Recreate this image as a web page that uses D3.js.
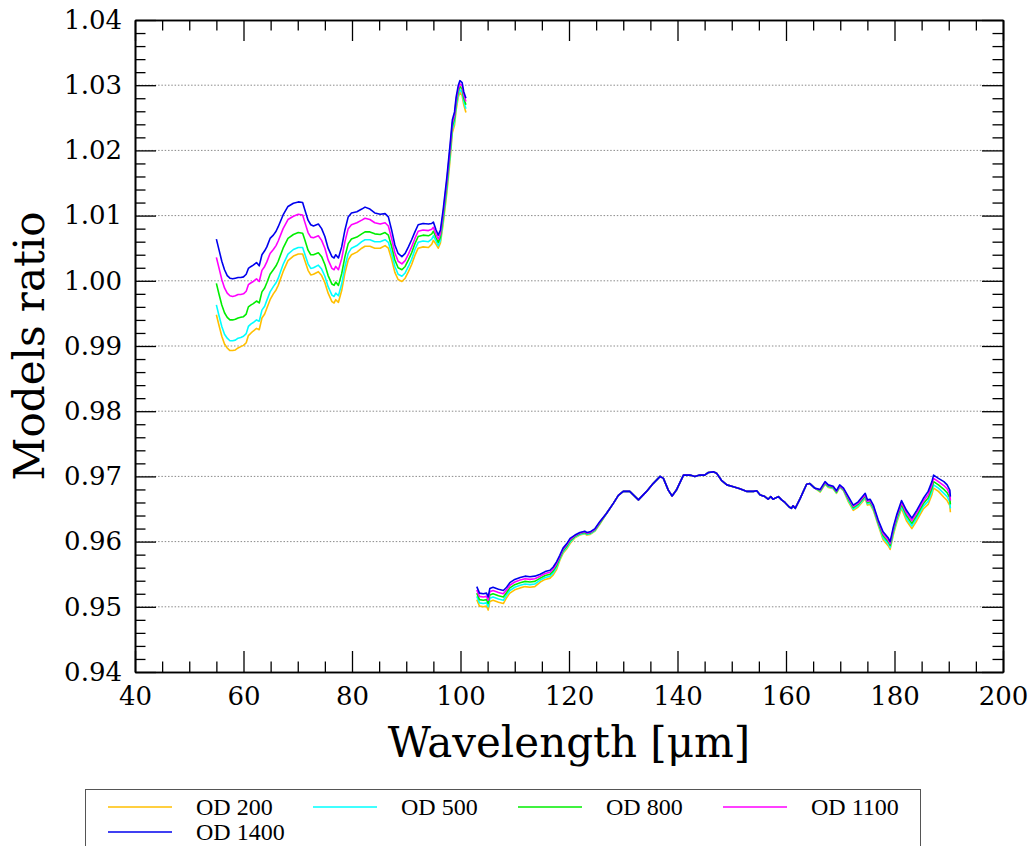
<!DOCTYPE html>
<html><head><meta charset="utf-8">
<script src="https://cdn.jsdelivr.net/npm/d3@7"></script>
<style>body{margin:0;background:#fff;} svg{display:block;}</style>
</head><body><svg id="chart" width="1033" height="846"></svg>
<script>
// ---------- DATA ----------
const wavelengthA = [55.0,55.5,56.0,56.5,57.0,57.5,58.0,58.5,59.0,59.5,60.0,60.5,60.9,61.4,61.8,62.4,62.9,63.4,63.9,64.3,64.9,65.5,66.0,66.4,67.3,68.2,69.2,70.1,70.9,71.3,71.9,72.4,72.9,73.8,74.4,75.0,75.6,76.3,76.7,77.0,77.5,78.1,78.7,79.3,79.9,80.9,81.8,82.4,83.3,84.2,85.2,86.1,86.7,87.3,87.9,88.5,89.2,89.8,90.4,91.0,91.6,92.2,93.1,94.1,94.7,95.0,95.5,95.9,96.3,96.8,97.5,98.1,98.5,98.9,99.2,99.6,99.9,100.3,100.6,101.0];
const wavelengthB = [103.0,103.5,104.2,104.8,105.1,105.4,106.0,107.0,107.9,108.5,109.1,110.0,111.0,111.9,112.8,113.7,114.7,115.6,116.5,117.1,117.7,118.3,118.9,119.6,120.2,121.1,122.0,122.9,123.3,123.9,124.8,125.7,126.9,128.2,129.1,130.0,131.2,132.8,134.3,135.5,136.8,137.4,138.3,139.0,139.8,141.1,142.3,143.2,144.1,145.0,145.7,146.6,147.2,148.1,149.1,150.3,151.5,152.8,154.0,154.6,155.2,156.1,156.7,157.2,157.6,158.6,159.2,159.8,160.6,161.0,161.3,161.7,162.6,163.2,163.8,164.4,165.3,166.3,167.2,167.8,168.7,169.3,169.9,170.6,171.5,172.4,173.3,174.6,175.0,175.5,176.1,177.0,177.9,178.9,179.2,179.8,180.4,181.3,182.2,183.2,184.1,185.3,186.2,186.9,187.2,188.1,189.1,189.7,190.2,190.3];

const od200A = [0.9948,0.9931,0.9915,0.9903,0.9897,0.9893,0.9893,0.9894,0.9897,0.9899,0.9901,0.9905,0.9916,0.9920,0.9923,0.9927,0.9925,0.9943,0.9949,0.9958,0.9971,0.9980,0.9986,0.9993,1.0014,1.0031,1.0038,1.0041,1.0041,1.0031,1.0016,1.0009,1.0010,1.0014,1.0008,0.9997,0.9981,0.9968,0.9966,0.9971,0.9967,0.9985,1.0012,1.0032,1.0040,1.0044,1.0050,1.0053,1.0053,1.0050,1.0050,1.0054,1.0050,1.0033,1.0013,1.0002,0.9999,1.0004,1.0014,1.0025,1.0039,1.0050,1.0052,1.0051,1.0056,1.0062,1.0056,1.0050,1.0058,1.0087,1.0136,1.0187,1.0227,1.0239,1.0262,1.0282,1.0289,1.0284,1.0270,1.0258];
const od500A = [0.9963,0.9946,0.9930,0.9918,0.9912,0.9908,0.9908,0.9909,0.9912,0.9913,0.9915,0.9919,0.9930,0.9934,0.9936,0.9940,0.9938,0.9955,0.9961,0.9970,0.9983,0.9991,0.9997,1.0004,1.0025,1.0041,1.0048,1.0051,1.0051,1.0041,1.0026,1.0019,1.0020,1.0024,1.0018,1.0007,0.9991,0.9978,0.9976,0.9981,0.9977,0.9995,1.0022,1.0042,1.0050,1.0054,1.0060,1.0063,1.0063,1.0060,1.0060,1.0063,1.0059,1.0042,1.0022,1.0010,1.0007,1.0012,1.0022,1.0033,1.0048,1.0059,1.0061,1.0060,1.0064,1.0069,1.0061,1.0054,1.0062,1.0092,1.0142,1.0193,1.0232,1.0244,1.0267,1.0286,1.0293,1.0289,1.0275,1.0264];
const od800A = [0.9996,0.9979,0.9963,0.9951,0.9944,0.9940,0.9940,0.9941,0.9943,0.9944,0.9945,0.9949,0.9960,0.9963,0.9965,0.9969,0.9966,0.9983,0.9989,0.9997,1.0010,1.0017,1.0023,1.0030,1.0050,1.0065,1.0071,1.0074,1.0073,1.0063,1.0047,1.0040,1.0040,1.0043,1.0037,1.0025,1.0008,0.9995,0.9993,0.9998,0.9993,1.0011,1.0037,1.0057,1.0064,1.0067,1.0072,1.0075,1.0075,1.0072,1.0071,1.0074,1.0070,1.0053,1.0032,1.0020,1.0017,1.0022,1.0032,1.0043,1.0057,1.0068,1.0070,1.0069,1.0072,1.0076,1.0066,1.0059,1.0067,1.0097,1.0148,1.0199,1.0237,1.0249,1.0272,1.0291,1.0298,1.0294,1.0280,1.0270];
const od1100A = [1.0036,1.0019,1.0002,0.9989,0.9981,0.9977,0.9976,0.9977,0.9979,0.9979,0.9980,0.9984,0.9994,0.9997,0.9999,1.0003,0.9999,1.0016,1.0022,1.0029,1.0042,1.0048,1.0054,1.0061,1.0080,1.0094,1.0099,1.0102,1.0101,1.0090,1.0074,1.0067,1.0066,1.0069,1.0062,1.0050,1.0032,1.0019,1.0017,1.0022,1.0017,1.0034,1.0060,1.0080,1.0086,1.0089,1.0093,1.0096,1.0094,1.0089,1.0087,1.0089,1.0084,1.0065,1.0043,1.0030,1.0026,1.0031,1.0041,1.0052,1.0065,1.0076,1.0078,1.0077,1.0079,1.0082,1.0071,1.0064,1.0072,1.0103,1.0154,1.0205,1.0242,1.0254,1.0277,1.0295,1.0302,1.0299,1.0285,1.0275];
const od1400A = [1.0064,1.0047,1.0030,1.0017,1.0008,1.0004,1.0003,1.0004,1.0005,1.0005,1.0006,1.0010,1.0019,1.0022,1.0024,1.0028,1.0023,1.0040,1.0046,1.0052,1.0065,1.0070,1.0076,1.0083,1.0101,1.0114,1.0119,1.0121,1.0120,1.0109,1.0093,1.0086,1.0084,1.0087,1.0080,1.0068,1.0050,1.0037,1.0035,1.0040,1.0035,1.0052,1.0078,1.0098,1.0104,1.0106,1.0110,1.0113,1.0110,1.0104,1.0102,1.0103,1.0098,1.0078,1.0055,1.0042,1.0037,1.0042,1.0052,1.0063,1.0075,1.0086,1.0088,1.0087,1.0088,1.0090,1.0078,1.0070,1.0078,1.0109,1.0160,1.0211,1.0247,1.0259,1.0282,1.0300,1.0307,1.0304,1.0290,1.0280];

const od200B = [0.9511,0.9501,0.9500,0.9501,0.9495,0.9508,0.9510,0.9507,0.9505,0.9514,0.9521,0.9526,0.9529,0.9531,0.9530,0.9531,0.9538,0.9542,0.9544,0.9549,0.9557,0.9571,0.9582,0.9589,0.9597,0.9606,0.9610,0.9612,0.9610,0.9611,0.9616,0.9627,0.9643,0.9659,0.9671,0.9677,0.9677,0.9664,0.9677,0.9689,0.9700,0.9697,0.9679,0.9670,0.9679,0.9702,0.9702,0.9700,0.9702,0.9702,0.9706,0.9707,0.9705,0.9694,0.9687,0.9684,0.9681,0.9677,0.9677,0.9678,0.9672,0.9669,0.9665,0.9669,0.9665,0.9669,0.9664,0.9660,0.9653,0.9651,0.9655,0.9651,0.9666,0.9677,0.9688,0.9689,0.9682,0.9676,0.9688,0.9683,0.9681,0.9674,0.9683,0.9678,0.9661,0.9648,0.9653,0.9666,0.9656,0.9657,0.9648,0.9625,0.9603,0.9593,0.9588,0.9611,0.9629,0.9651,0.9632,0.9620,0.9632,0.9650,0.9657,0.9672,0.9682,0.9677,0.9668,0.9663,0.9655,0.9645];
const od500B = [0.9516,0.9506,0.9505,0.9506,0.9500,0.9513,0.9515,0.9512,0.9510,0.9518,0.9525,0.9530,0.9533,0.9535,0.9534,0.9535,0.9541,0.9545,0.9547,0.9552,0.9560,0.9573,0.9584,0.9591,0.9599,0.9607,0.9611,0.9613,0.9611,0.9612,0.9617,0.9628,0.9643,0.9659,0.9671,0.9677,0.9677,0.9664,0.9677,0.9689,0.9700,0.9697,0.9679,0.9670,0.9679,0.9702,0.9702,0.9700,0.9702,0.9702,0.9706,0.9707,0.9705,0.9694,0.9687,0.9684,0.9681,0.9677,0.9677,0.9678,0.9672,0.9669,0.9665,0.9669,0.9665,0.9669,0.9664,0.9660,0.9653,0.9651,0.9655,0.9651,0.9666,0.9677,0.9688,0.9689,0.9682,0.9677,0.9689,0.9684,0.9682,0.9675,0.9684,0.9679,0.9663,0.9650,0.9655,0.9668,0.9658,0.9659,0.9650,0.9627,0.9606,0.9596,0.9591,0.9614,0.9632,0.9654,0.9636,0.9624,0.9636,0.9654,0.9662,0.9677,0.9687,0.9682,0.9674,0.9669,0.9661,0.9651];
const od800B = [0.9521,0.9511,0.9510,0.9511,0.9505,0.9518,0.9520,0.9517,0.9515,0.9522,0.9529,0.9534,0.9537,0.9539,0.9538,0.9539,0.9544,0.9548,0.9550,0.9555,0.9563,0.9575,0.9586,0.9593,0.9601,0.9608,0.9612,0.9614,0.9612,0.9613,0.9618,0.9629,0.9643,0.9659,0.9671,0.9677,0.9677,0.9664,0.9677,0.9689,0.9700,0.9697,0.9679,0.9670,0.9679,0.9702,0.9702,0.9700,0.9702,0.9702,0.9706,0.9707,0.9705,0.9694,0.9687,0.9684,0.9681,0.9677,0.9677,0.9678,0.9672,0.9669,0.9665,0.9669,0.9665,0.9669,0.9664,0.9660,0.9653,0.9651,0.9655,0.9651,0.9666,0.9677,0.9688,0.9689,0.9682,0.9678,0.9690,0.9685,0.9683,0.9676,0.9685,0.9680,0.9665,0.9652,0.9657,0.9670,0.9660,0.9661,0.9652,0.9629,0.9609,0.9599,0.9594,0.9617,0.9635,0.9657,0.9640,0.9628,0.9640,0.9658,0.9667,0.9682,0.9692,0.9687,0.9680,0.9675,0.9667,0.9657];
const od1100B = [0.9526,0.9516,0.9515,0.9516,0.9510,0.9523,0.9525,0.9522,0.9520,0.9526,0.9533,0.9538,0.9541,0.9543,0.9542,0.9543,0.9547,0.9551,0.9553,0.9558,0.9566,0.9577,0.9588,0.9595,0.9603,0.9609,0.9613,0.9615,0.9613,0.9614,0.9619,0.9630,0.9643,0.9659,0.9671,0.9677,0.9677,0.9664,0.9677,0.9689,0.9700,0.9697,0.9679,0.9670,0.9679,0.9702,0.9702,0.9700,0.9702,0.9702,0.9706,0.9707,0.9705,0.9694,0.9687,0.9684,0.9681,0.9677,0.9677,0.9678,0.9672,0.9669,0.9665,0.9669,0.9665,0.9669,0.9664,0.9660,0.9653,0.9651,0.9655,0.9651,0.9666,0.9677,0.9688,0.9689,0.9682,0.9679,0.9691,0.9686,0.9684,0.9677,0.9685,0.9681,0.9667,0.9654,0.9659,0.9672,0.9662,0.9663,0.9654,0.9631,0.9612,0.9602,0.9597,0.9620,0.9638,0.9660,0.9644,0.9632,0.9644,0.9662,0.9672,0.9687,0.9697,0.9692,0.9686,0.9681,0.9673,0.9663];
const od1400B = [0.9531,0.9521,0.9520,0.9521,0.9515,0.9528,0.9530,0.9527,0.9525,0.9530,0.9537,0.9542,0.9545,0.9547,0.9546,0.9547,0.9550,0.9554,0.9556,0.9561,0.9569,0.9579,0.9590,0.9597,0.9605,0.9610,0.9614,0.9616,0.9614,0.9615,0.9620,0.9631,0.9643,0.9659,0.9671,0.9677,0.9677,0.9664,0.9677,0.9689,0.9700,0.9697,0.9679,0.9670,0.9679,0.9702,0.9702,0.9700,0.9702,0.9702,0.9706,0.9707,0.9705,0.9694,0.9687,0.9684,0.9681,0.9677,0.9677,0.9678,0.9672,0.9669,0.9665,0.9669,0.9665,0.9669,0.9664,0.9660,0.9653,0.9651,0.9655,0.9651,0.9666,0.9677,0.9688,0.9689,0.9682,0.9680,0.9692,0.9687,0.9685,0.9678,0.9687,0.9682,0.9669,0.9656,0.9661,0.9674,0.9664,0.9665,0.9656,0.9633,0.9615,0.9605,0.9600,0.9623,0.9641,0.9663,0.9648,0.9636,0.9648,0.9666,0.9677,0.9692,0.9702,0.9697,0.9692,0.9687,0.9679,0.9669];

const seriesNames = ["OD 200", "OD 500", "OD 800", "OD 1100", "OD 1400"];
const seriesColors = ["#ffbf00", "#00ffff", "#00ee00", "#ff00ff", "#0000ee"];
const xMajorTicks = [40, 60, 80, 100, 120, 140, 160, 180, 200];
const yMajorTicks = [0.94, 0.95, 0.96, 0.97, 0.98, 0.99, 1.00, 1.01, 1.02, 1.03, 1.04];
const xTitle = "Wavelength [μm]";
const yTitle = "Models ratio";

// ---------- CHART ----------
const seriesA = [od200A, od500A, od800A, od1100A, od1400A];
const seriesB = [od200B, od500B, od800B, od1100B, od1400B];

const svg = d3.select("#chart");
const L = 135, R = 1003, T = 20, B = 672;
const x = d3.scaleLinear().domain([40, 200]).range([L, R]);
const y = d3.scaleLinear().domain([0.94, 1.04]).range([B, T]);

const xMinor = d3.range(40, 200.1, 5).filter(v => v % 20 !== 0);
const yMinor = d3.range(0, 51).map(i => 0.94 + i * 0.002).filter(v => Math.abs(v * 100 - Math.round(v * 100)) > 1e-6);

// grid
svg.append("g").selectAll("line")
  .data(yMajorTicks.slice(1, -1)).join("line")
  .attr("x1", L).attr("x2", R)
  .attr("y1", d => y(d)).attr("y2", d => y(d))
  .attr("stroke", "#8a8a8a").attr("stroke-width", 1).attr("stroke-dasharray", "1.5,1.8");

// series
svg.append("defs").append("clipPath").attr("id", "clip")
  .append("rect").attr("x", L).attr("y", T).attr("width", R - L).attr("height", B - T);
const line = d3.line().x(d => x(d[0])).y(d => y(d[1]));
const gLines = svg.append("g").attr("clip-path", "url(#clip)");
seriesNames.forEach((name, i) => {
  [[wavelengthA, seriesA[i]], [wavelengthB, seriesB[i]]].forEach(([xs, ys]) => {
    gLines.append("path")
      .datum(xs.map((w, k) => [w, ys[k]]))
      .attr("d", line)
      .attr("fill", "none")
      .attr("stroke", seriesColors[i])
      .attr("stroke-width", 1.6)
      .attr("stroke-linejoin", "round");
  });
});

// axes
const majorLen = 21, minorLen = 10.5;
function styleAxis(g) {
  g.selectAll(".domain").attr("stroke", "#000").attr("stroke-width", 1.6);
  g.selectAll(".tick line").attr("stroke", "#000").attr("stroke-width", 1.3);
  g.selectAll("text").attr("font-family", "DejaVu Serif").attr("font-size", 26).attr("fill", "#000");
}
// bottom
svg.append("g").attr("transform", `translate(0,${B})`)
  .call(d3.axisBottom(x).tickValues(xMajorTicks).tickSizeInner(-majorLen).tickSizeOuter(0).tickPadding(15).tickFormat(d3.format("d")))
  .call(styleAxis);
svg.append("g").attr("transform", `translate(0,${B})`)
  .call(d3.axisBottom(x).tickValues(xMinor).tickSizeInner(-minorLen).tickSizeOuter(0).tickFormat(""))
  .call(styleAxis);
// top
svg.append("g").attr("transform", `translate(0,${T})`)
  .call(d3.axisTop(x).tickValues(xMajorTicks).tickSizeInner(-majorLen).tickSizeOuter(0).tickFormat(""))
  .call(styleAxis);
svg.append("g").attr("transform", `translate(0,${T})`)
  .call(d3.axisTop(x).tickValues(xMinor).tickSizeInner(-minorLen).tickSizeOuter(0).tickFormat(""))
  .call(styleAxis);
// left
svg.append("g").attr("transform", `translate(${L},0)`)
  .call(d3.axisLeft(y).tickValues(yMajorTicks).tickSizeInner(-majorLen).tickSizeOuter(0).tickPadding(13).tickFormat(d3.format(".2f")))
  .call(styleAxis);
svg.append("g").attr("transform", `translate(${L},0)`)
  .call(d3.axisLeft(y).tickValues(yMinor).tickSizeInner(-minorLen).tickSizeOuter(0).tickFormat(""))
  .call(styleAxis);
// right
svg.append("g").attr("transform", `translate(${R},0)`)
  .call(d3.axisRight(y).tickValues(yMajorTicks).tickSizeInner(-majorLen).tickSizeOuter(0).tickFormat(""))
  .call(styleAxis);
svg.append("g").attr("transform", `translate(${R},0)`)
  .call(d3.axisRight(y).tickValues(yMinor).tickSizeInner(-minorLen).tickSizeOuter(0).tickFormat(""))
  .call(styleAxis);

// titles
svg.append("text").attr("x", (L + R) / 2).attr("y", 757)
  .attr("text-anchor", "middle").attr("font-family", "DejaVu Serif").attr("font-size", 42)
  .text(xTitle);
svg.append("text").attr("transform", `translate(44,${(T + B) / 2}) rotate(-90)`)
  .attr("text-anchor", "middle").attr("font-family", "DejaVu Serif").attr("font-size", 42)
  .text(yTitle);

// legend
const lg = svg.append("g");
lg.append("rect").attr("x", 85.5).attr("y", 789.5).attr("width", 835).attr("height", 80)
  .attr("fill", "#fff").attr("stroke", "#555").attr("stroke-width", 1);
seriesNames.forEach((name, i) => {
  const col = i % 4, row = Math.floor(i / 4);
  const lx = 108 + col * 205, ly = 807 + row * 25;
  lg.append("line").attr("x1", lx).attr("x2", lx + 64).attr("y1", ly).attr("y2", ly)
    .attr("stroke", seriesColors[i]).attr("stroke-width", 1.6);
  lg.append("text").attr("x", lx + 88).attr("y", ly + 8)
    .attr("font-family", "Liberation Serif").attr("font-size", 24).attr("fill", "#000")
    .text(name);
});
</script>
</body></html>
